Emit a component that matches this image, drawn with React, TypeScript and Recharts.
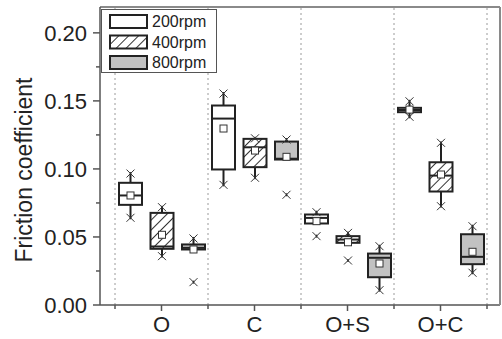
import React from 'react';
import { ComposedChart, Bar, XAxis, YAxis, ReferenceLine } from 'recharts';

const categories = ['O', 'C', 'O+S', 'O+C'];
const rpmLabels = ['200rpm', '400rpm', '800rpm'];

// 200rpm
const q1_200 = [0.0736, 0.0996, 0.0599, 0.1417];
const median_200 = [0.0805, 0.137, 0.064, 0.1433];
const q3_200 = [0.0898, 0.1466, 0.0665, 0.1449];
const mean_200 = [0.0805, 0.1297, 0.0616, 0.1436];
const upper_200 = [0.0966, 0.1554, 0.0682, 0.1497];
const lower_200 = [0.0641, 0.0883, 0.0506, 0.1383];
const whiskerLow_200 = [0.0641, 0.0883, 0.0599, 0.1383];

// 400rpm
const q1_400 = [0.0413, 0.1013, 0.0457, 0.0834];
const median_400 = [0.043, 0.1159, 0.0481, 0.0951];
const q3_400 = [0.0677, 0.1221, 0.0506, 0.1049];
const mean_400 = [0.0516, 0.1135, 0.0461, 0.0959];
const upper_400 = [0.0719, 0.1225, 0.053, 0.1192];
const lower_400 = [0.0359, 0.0935, 0.0327, 0.0726];
const whiskerLow_400 = [0.0359, 0.0935, 0.0457, 0.0726];

// 800rpm
const q1_800 = [0.0408, 0.1069, 0.0204, 0.03];
const median_800 = [0.042, 0.1075, 0.0347, 0.0354];
const q3_800 = [0.0445, 0.1201, 0.0378, 0.052];
const mean_800 = [0.0408, 0.1089, 0.0305, 0.0391];
const upper_800 = [0.0489, 0.1216, 0.0432, 0.0579];
const lower_800 = [0.0168, 0.081, 0.0109, 0.0237];
const whiskerLow_800 = [0.0408, 0.1069, 0.0109, 0.0237];

const yTicks = [0, 0.025, 0.05, 0.075, 0.1, 0.125, 0.15, 0.175, 0.2];
const xTicks = [0.5, 1, 1.5, 2, 2.5, 3, 3.5, 4, 4.5];
const separators = [0.5, 1.5, 2.5, 3.5, 4.5];
const Y_MAX = 0.219;

const pick = (i: number, q1: number[], med: number[], q3: number[], mean: number[], up: number[], lo: number[], wl: number[]) => ({
  q1: q1[i], median: med[i], q3: q3[i], mean: mean[i], upper: up[i], lower: lo[i], whiskerLow: wl[i],
});

const data = categories.map((name, i) => ({
  name,
  pos: i + 1,
  s200: pick(i, q1_200, median_200, q3_200, mean_200, upper_200, lower_200, whiskerLow_200),
  s400: pick(i, q1_400, median_400, q3_400, mean_400, upper_400, lower_400, whiskerLow_400),
  s800: pick(i, q1_800, median_800, q3_800, mean_800, upper_800, lower_800, whiskerLow_800),
}));

const INK = '#222';
const GRAY_FILL = '#c2c2c2';
const FONT = '"Liberation Sans", Arial, sans-serif';

const Cross = ({ cx, cy }: { cx: number; cy: number }) => (
  <g stroke="#333" strokeWidth={1}>
    <line x1={cx - 4} y1={cy - 4} x2={cx + 4} y2={cy + 4} />
    <line x1={cx - 4} y1={cy + 4} x2={cx + 4} y2={cy - 4} />
    <line x1={cx} y1={cy - 1.5} x2={cx} y2={cy + 1.5} strokeWidth={1.5} />
  </g>
);

// the bar spans 0..q3, so its rect gives the scale for every other value
const makeBoxShape = (key: 's200' | 's400' | 's800', fill: string, hatch: boolean) => (props: any) => {
  const { x, y, width, height, payload, index } = props;
  const s = payload[key];
  const k = height / s.q3;
  const base = y + height;
  const py = (v: number) => base - v * k;
  const cx = x + width / 2;
  const top = py(s.q3);
  const bot = py(s.q1);
  const pid = `hatch-${key}-${index}`;
  return (
    <g>
      {hatch && (
        <defs>
          <pattern id={pid} patternUnits="userSpaceOnUse" width={7} height={7} patternTransform="rotate(45)">
            <line x1={3.5} y1={0} x2={3.5} y2={7} stroke="#333" strokeWidth={1} />
          </pattern>
        </defs>
      )}
      <line x1={cx} y1={py(s.upper)} x2={cx} y2={top} stroke={INK} strokeWidth={2} />
      <line x1={cx} y1={bot} x2={cx} y2={py(s.whiskerLow)} stroke={INK} strokeWidth={2} />
      <rect x={x + 1} y={top} width={width - 2} height={bot - top} fill={fill} stroke="none" />
      {hatch && <rect x={x + 1} y={top} width={width - 2} height={bot - top} fill={`url(#${pid})`} stroke="none" />}
      <rect x={x + 1} y={top} width={width - 2} height={bot - top} fill="none" stroke={INK} strokeWidth={2} />
      <line x1={x + 1} y1={py(s.median)} x2={x + width - 1} y2={py(s.median)} stroke={INK} strokeWidth={2} />
      <rect x={cx - 3.5} y={py(s.mean) - 3.5} width={7} height={7} fill="#fff" stroke="#333" strokeWidth={1} />
      <Cross cx={cx} cy={py(s.upper)} />
      <Cross cx={cx} cy={py(s.lower)} />
    </g>
  );
};

const YTick = (props: any) => {
  const { x, y, payload, index } = props;
  const major = index % 2 === 0;
  return (
    <g>
      <line x1={x - (major ? 7 : 4)} y1={y} x2={x} y2={y} stroke="#555" strokeWidth={1.5} />
      {major && (
        <text x={x - 13} y={y} dy="0.36em" textAnchor="end" fontSize={22} fontFamily={FONT} fill={INK}>
          {payload.value.toFixed(2)}
        </text>
      )}
    </g>
  );
};

const XTick = (props: any) => {
  const { x, y, payload } = props;
  const major = Number.isInteger(payload.value);
  return (
    <g>
      <line x1={x} y1={y} x2={x} y2={y + (major ? 6 : 4)} stroke="#555" strokeWidth={1.5} />
      {major && (
        <text x={x} y={y + 27} textAnchor="middle" fontSize={22} fontFamily={FONT} fill={INK}>
          {categories[payload.value - 1]}
        </text>
      )}
    </g>
  );
};

const swatchFills = ['#fff', '#fff', GRAY_FILL];

const LegendBox = () => (
  <svg width={116} height={64} style={{ position: 'absolute', left: 101, top: 9 }}>
    <defs>
      <pattern id="legend-hatch" patternUnits="userSpaceOnUse" width={7} height={7} patternTransform="rotate(45)">
        <line x1={3.5} y1={0} x2={3.5} y2={7} stroke="#333" strokeWidth={1} />
      </pattern>
    </defs>
    <rect x={0.5} y={0.5} width={115} height={63} fill="#fff" stroke="#555" strokeWidth={1} />
    {rpmLabels.map((label, i) => {
      const ry = 6 + i * 20.5;
      return (
        <g key={label}>
          <rect x={9} y={ry} width={37} height={13} fill={swatchFills[i]} stroke="none" />
          {i === 1 && <rect x={9} y={ry} width={37} height={13} fill="url(#legend-hatch)" />}
          <rect x={9} y={ry} width={37} height={13} fill="none" stroke={INK} strokeWidth={2} />
          <text x={51} y={ry + 12} fontSize={16} fontFamily={FONT} fill={INK}>
            {label}
          </text>
        </g>
      );
    })}
  </svg>
);

export default function App() {
  return (
    <div style={{ position: 'absolute', left: 0, top: 0, width: 502, height: 339, background: '#fff' }}>
      <ComposedChart
        width={502}
        height={339}
        data={data}
        margin={{ top: 7, right: 1, bottom: 0, left: 0 }}
        barGap={6.5}
      >
        <XAxis
          xAxisId="cat"
          dataKey="name"
          type="category"
          orientation="top"
          hide
          height={0}
          padding={{ left: 15, right: 13 }}
        />
        <XAxis
          xAxisId="num"
          dataKey="pos"
          type="number"
          domain={[0.5, 4.5]}
          allowDataOverflow
          ticks={xTicks}
          interval={0}
          padding={{ left: 15, right: 13 }}
          height={34}
          tickLine={false}
          tickSize={0}
          tickMargin={0}
          tick={<XTick />}
          axisLine={{ stroke: '#555', strokeWidth: 1.5 }}
        />
        <YAxis
          type="number"
          domain={[0, Y_MAX]}
          ticks={yTicks}
          interval={0}
          width={100}
          tickLine={false}
          tickSize={0}
          tickMargin={0}
          tick={<YTick />}
          axisLine={{ stroke: '#555', strokeWidth: 1.5 }}
          label={{
            content: () => (
              <text
                x={24}
                y={170}
                transform="rotate(-90 24 170)"
                textAnchor="middle"
                dominantBaseline="central"
                fontSize={23}
                fontFamily={FONT}
                fill={INK}
              >
                Friction coefficient
              </text>
            ),
          }}
        />
        <YAxis
          yAxisId="r"
          orientation="right"
          type="number"
          domain={[0, 1]}
          width={1}
          tick={false}
          tickLine={false}
          axisLine={{ stroke: '#8a8a8a', strokeWidth: 2 }}
        />
        {separators.map((s) => (
          <ReferenceLine key={s} xAxisId="num" x={s} stroke="#9a9a9a" strokeWidth={1} strokeDasharray="2 3" />
        ))}
        <ReferenceLine xAxisId="num" y={Y_MAX} stroke="#8a8a8a" strokeWidth={2} />
        <Bar xAxisId="cat" dataKey={(r: any) => r.s200.q3} barSize={25} isAnimationActive={false} shape={makeBoxShape('s200', '#fff', false)} />
        <Bar xAxisId="cat" dataKey={(r: any) => r.s400.q3} barSize={25} isAnimationActive={false} shape={makeBoxShape('s400', '#fff', true)} />
        <Bar xAxisId="cat" dataKey={(r: any) => r.s800.q3} barSize={25} isAnimationActive={false} shape={makeBoxShape('s800', GRAY_FILL, false)} />
      </ComposedChart>
      <LegendBox />
    </div>
  );
}
